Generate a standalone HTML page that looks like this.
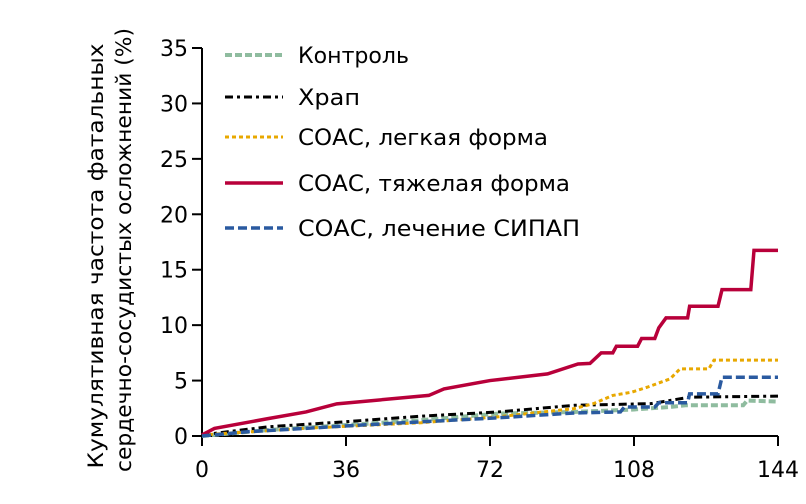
<!DOCTYPE html>
<html><head><meta charset="utf-8"><style>
body{margin:0;background:#fff;}
svg text{font-family:"DejaVu Sans","Liberation Sans",sans-serif;fill:#000;}
</style></head><body>
<svg width="806" height="499" xmlns="http://www.w3.org/2000/svg">
<g id="axes"></g><g id="series"></g><g id="legend"></g>
<text transform="translate(103,256) rotate(-90)" text-anchor="middle" font-size="21" textLength="425" lengthAdjust="spacingAndGlyphs">Кумулятивная частота фатальных</text>
<text transform="translate(131,250) rotate(-90)" text-anchor="middle" font-size="21" textLength="444" lengthAdjust="spacingAndGlyphs">сердечно-сосудистых осложнений (%)</text>
</svg>
<script>
const xTicks=[0,36,72,108,144];
const yTicks=[0,5,10,15,20,25,30,35];
const seriesNames=["Контроль","Храп","СОАС, легкая форма","СОАС, тяжелая форма","СОАС, лечение СИПАП"];
const controlX=[0,16.5,35.6,54.8,74,93.1,107.5,117,120.9,135.3,136.3,144];
const controlY=[0,0.54,0.98,1.43,2.02,2.17,2.38,2.62,2.77,2.77,3.2,3.1];
const snoreX=[0,16.5,35.6,54.8,74,93.1,112.3,121.9,144];
const snoreY=[0.1,0.83,1.28,1.79,2.17,2.77,2.92,3.5,3.6];
const mildX=[0,26,54.8,74,93,97.9,102.7,107.5,111.3,117,119.5,126.7,128,144];
const mildY=[0.1,0.7,1.2,1.73,2.47,2.92,3.66,3.96,4.4,5.15,6.05,6.05,6.85,6.85];
const severeX=[0,3.1,16.5,26,33.7,56.7,60.5,72,86.4,94,97,99.8,102.7,103.6,108.9,109.9,113.2,114.2,116,121.4,121.9,129,130,137.2,138,144];
const severeY=[0.1,0.68,1.57,2.17,2.9,3.66,4.25,5,5.6,6.5,6.55,7.5,7.5,8.1,8.1,8.8,8.8,9.76,10.65,10.65,11.7,11.7,13.2,13.2,16.75,16.75];
const cpapX=[0,11.7,24.1,35.6,54.8,74,93.1,104.6,105.6,113.2,114.2,121.4,121.9,129,130,144];
const cpapY=[0,0.39,0.65,0.9,1.28,1.64,2.08,2.17,2.62,2.62,3,3,3.8,3.8,5.3,5.3];
const legendWidths=[111,62,250,272,282];

const NS="http://www.w3.org/2000/svg";
const X0=202,X1=778,Y0=436,Y1=48;
const sx=v=>X0+(v-0)/(144-0)*(X1-X0);
const sy=v=>Y0-(v-0)/(35-0)*(Y0-Y1);
function mk(tag,parent){const e=document.createElementNS(NS,tag);parent.appendChild(e);return e;}
const axes=document.getElementById('axes');
let l=mk('line',axes);


l.setAttribute('x1',X0);l.setAttribute('x2',X0);l.setAttribute('y1',Y1);l.setAttribute('y2',Y0+1);l.setAttribute('stroke','#000');l.setAttribute('stroke-width','2');
l=mk('line',axes);


l.setAttribute('x1',X0-1);l.setAttribute('x2',X1);l.setAttribute('y1',Y0);l.setAttribute('y2',Y0);l.setAttribute('stroke','#000');l.setAttribute('stroke-width','2');
yTicks.forEach(v=>{
 const t=mk('line',axes);
 
 
 t.setAttribute('x1',X0-10);t.setAttribute('x2',X0);t.setAttribute('y1',sy(v));t.setAttribute('y2',sy(v));t.setAttribute('stroke','#000');t.setAttribute('stroke-width','2');
 const tx=mk('text',axes);
 
 
 tx.setAttribute('x',188);tx.setAttribute('y',sy(v)+8);tx.setAttribute('text-anchor','end');tx.setAttribute('font-size','22');tx.textContent=v;
});
xTicks.forEach(v=>{
 const t=mk('line',axes);
 
 
 t.setAttribute('x1',sx(v));t.setAttribute('x2',sx(v));t.setAttribute('y1',Y0);t.setAttribute('y2',Y0+10);t.setAttribute('stroke','#000');t.setAttribute('stroke-width','2');
 const tx=mk('text',axes);
 
 
 tx.setAttribute('x',sx(v));tx.setAttribute('y',477);tx.setAttribute('text-anchor','middle');tx.setAttribute('font-size','22');tx.textContent=v;
});
const styles=[
 {c:'#8fbc9f',w:4,d:'7,3',xs:controlX,ys:controlY},
 {c:'#000',w:3,d:'8,4,3,4',xs:snoreX,ys:snoreY},
 {c:'#e8a800',w:3,d:'4,3',xs:mildX,ys:mildY},
 {c:'#b8003a',w:3.5,d:'',xs:severeX,ys:severeY},
 {c:'#2a5aa0',w:3.5,d:'9,4',xs:cpapX,ys:cpapY}];
const sg=document.getElementById('series');
const lg=document.getElementById('legend');
const legY=[55,97,137,183,228];
styles.forEach((s,i)=>{
 const p=mk('polyline',sg);
 
 
 p.setAttribute('points',s.xs.map((x,j)=>sx(x)+','+sy(s.ys[j])).join(' '));
 p.setAttribute('fill','none');p.setAttribute('stroke',s.c);p.setAttribute('stroke-width',s.w);
 if(s.d)p.setAttribute('stroke-dasharray',s.d);
 const ln=mk('line',lg);
 
 
 ln.setAttribute('x1',225);ln.setAttribute('x2',283);ln.setAttribute('y1',legY[i]);ln.setAttribute('y2',legY[i]);
 ln.setAttribute('stroke',s.c);ln.setAttribute('stroke-width',s.w);if(s.d)ln.setAttribute('stroke-dasharray',s.d);
 const tx=mk('text',lg);
 
 
 tx.setAttribute('x',298);tx.setAttribute('y',legY[i]+8);tx.setAttribute('font-size','22');
 tx.setAttribute('textLength',legendWidths[i]);tx.setAttribute('lengthAdjust','spacingAndGlyphs');
 tx.textContent=seriesNames[i];
});
</script>
</body></html>
